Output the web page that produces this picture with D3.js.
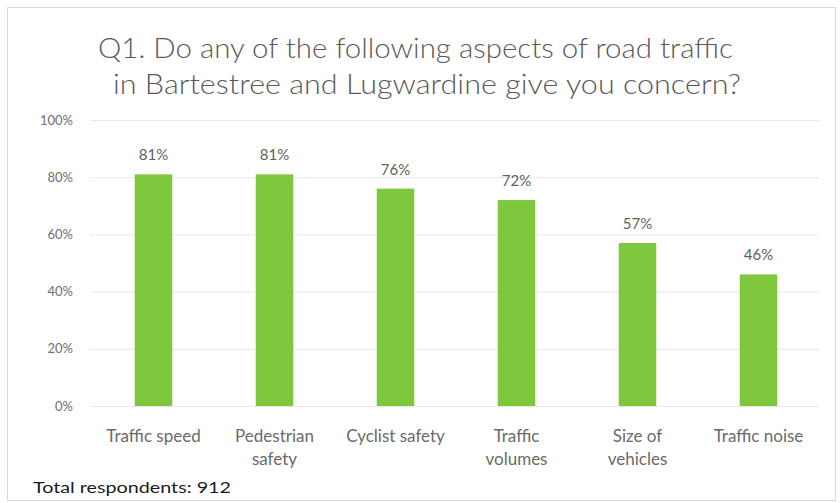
<!DOCTYPE html>
<html><head><meta charset="utf-8">
<script src="https://cdn.jsdelivr.net/npm/d3@7"></script>
<style>
html,body{margin:0;padding:0;background:#fff;}
svg{display:block;font-family:Lato,"Open Sans",sans-serif;}
</style></head>
<body>
<svg id="chart" width="840" height="503"></svg>
<script>
const categories = [["Traffic speed"],["Pedestrian","safety"],["Cyclist safety"],["Traffic","volumes"],["Size of","vehicles"],["Traffic noise"]];
const values = [81, 81, 76, 72, 57, 46];
const yTicks = [0, 20, 40, 60, 80, 100];
const titleLines = ["Q1. Do any of the following aspects of road traffic","in Bartestree and Lugwardine give you concern?"];
const footnote = "Total respondents: 912";

const svg = d3.select("#chart");
const plot = {left: 93, right: 819, top: 120, bottom: 406};

svg.append("rect").attr("x",7.5).attr("y",7.5).attr("width",828).attr("height",493)
  .attr("fill","#fff").attr("stroke","#d9d9d9");

const x = d3.scaleBand().domain(d3.range(categories.length)).range([plot.left, plot.right]).paddingInner(0.69).paddingOuter(0.345);
const y = d3.scaleLinear().domain([0,100]).range([plot.bottom, plot.top]);

// gridlines
svg.append("g").selectAll("line").data(yTicks).join("line")
  .attr("x1", plot.left-3).attr("x2", plot.right)
  .attr("y1", d=>y(d)+0.5).attr("y2", d=>y(d)+0.5)
  .attr("stroke","#e8e8e8").attr("stroke-width",1);

// y axis labels
const yAxis = d3.axisLeft(y).tickValues(yTicks).tickFormat(d=>d+"%").tickSize(0).tickPadding(0);
const ya = svg.append("g").attr("transform",`translate(73,0)`).call(yAxis);
ya.select(".domain").remove();
ya.selectAll("text").attr("fill","#6f6f6f").attr("font-size",13).attr("font-family","Lato, sans-serif");

// bars
svg.append("g").selectAll("rect").data(values).join("rect")
  .attr("x",(d,i)=>x(i)).attr("width",x.bandwidth())
  .attr("y",d=>y(d)).attr("height",d=>y(0)-y(d))
  .attr("fill","#7fc83e");

// value labels
svg.append("g").selectAll("text").data(values).join("text")
  .attr("x",(d,i)=>x(i)+x.bandwidth()/2).attr("y",d=>y(d)-14)
  .attr("text-anchor","middle").attr("font-size",15).attr("fill","#5f5f5f")
  .text(d=>d+"%");

// x labels
const xl = svg.append("g").selectAll("text").data(categories).join("text")
  .attr("x",(d,i)=>x(i)+x.bandwidth()/2).attr("y",442)
  .attr("text-anchor","middle").attr("font-size",17).attr("fill","#6a6a6a");
xl.each(function(d){
  const t = d3.select(this);
  d.forEach((line,j)=>{
    t.append("tspan").attr("x",t.attr("x")).attr("dy", j===0?0:23).text(line);
  });
});

// title
svg.append("g").selectAll("text").data(titleLines).join("text")
  .attr("x",(d,i)=> i===0 ? 415.5 : 427).attr("y",(d,i)=>58+i*36)
  .attr("text-anchor","middle").attr("font-size",28).attr("font-weight",300).attr("fill","#595959")
  .attr("textLength",(d,i)=> i===0 ? 635 : 628).attr("lengthAdjust","spacingAndGlyphs")
  .text(d=>d);

// footnote
svg.append("text").attr("x",33).attr("y",493).attr("font-size",15.5).attr("fill","#1a1a1a")
  .attr("textLength",198).attr("lengthAdjust","spacingAndGlyphs")
  .text(footnote);
</script>
</body></html>
